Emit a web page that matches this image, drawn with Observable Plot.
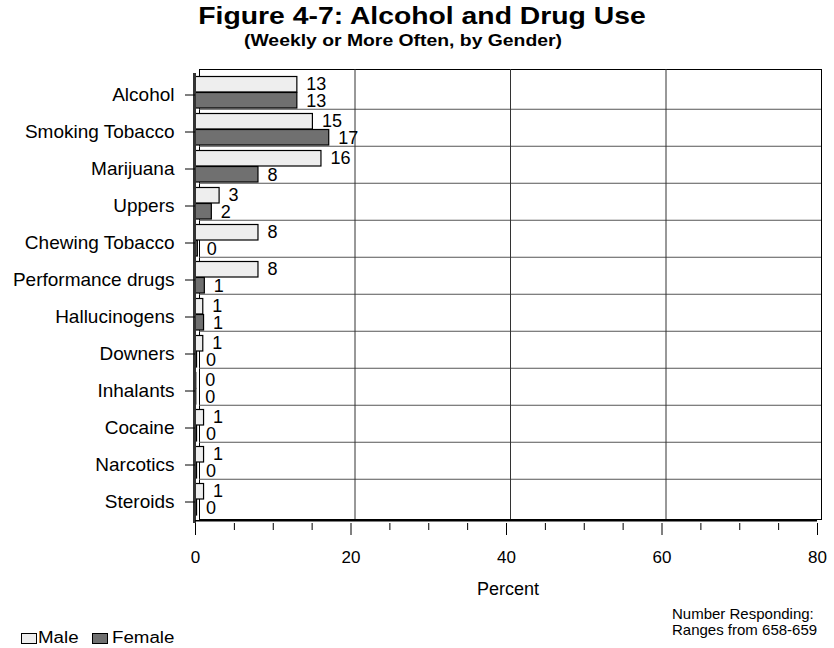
<!DOCTYPE html>
<html><head><meta charset="utf-8">
<script src="https://cdn.jsdelivr.net/npm/d3@7"></script>
<script src="https://cdn.jsdelivr.net/npm/@observablehq/plot@0.6"></script>
<style>
body{margin:0;background:#fff;font-family:"Liberation Sans",Arial,sans-serif;}
#wrap{position:relative;width:834px;height:648px;overflow:hidden;background:#fff;}
.abs{position:absolute;white-space:nowrap;color:#000;}
</style></head>
<body><div id="wrap">
<div id="chart" class="abs" style="left:0;top:56px"></div>
<div class="abs" style="left:422px;top:2px;font-size:24px;line-height:28px;font-weight:bold;transform:translateX(-50%) scaleX(1.18);">Figure 4-7: Alcohol and Drug Use</div>
<div class="abs" style="left:403px;top:30px;font-size:17.3px;line-height:20px;font-weight:bold;transform:translateX(-50%) scaleX(1.12);">(Weekly or More Often, by Gender)</div>
<div class="abs" style="left:508px;top:579px;font-size:18px;line-height:20px;transform:translateX(-50%);">Percent</div>
<div class="abs" style="left:21px;top:633px;width:14px;height:9px;border:1px solid #000;background:#eeeeee;"></div>
<div class="abs" style="left:38px;top:629px;font-size:16px;line-height:18px;transform-origin:left center;transform:scaleX(1.17);">Male</div>
<div class="abs" style="left:92px;top:633px;width:14px;height:9px;border:1px solid #000;background:#707070;"></div>
<div class="abs" style="left:112px;top:629px;font-size:16px;line-height:18px;transform-origin:left center;transform:scaleX(1.17);">Female</div>
<div class="abs" style="left:672px;top:606px;font-size:15px;line-height:16px;">Number Responding:<br>Ranges from 658-659</div>
</div>
<script>
const categories = ["Alcohol","Smoking Tobacco","Marijuana","Uppers","Chewing Tobacco","Performance drugs","Hallucinogens","Downers","Inhalants","Cocaine","Narcotics","Steroids"];
const male   = [13.1, 15.1, 16.2, 3.1, 8.1, 8.1, 1.0, 1.0, 0.1, 1.1, 1.1, 1.1];
const female = [13.1, 17.2, 8.1, 2.1, 0.3, 1.2, 1.1, 0.2, 0.1, 0.2, 0.2, 0.2];
const majorTicks = [0, 20, 40, 60, 80];
const minorTicks = [5, 10, 15, 25, 30, 35, 45, 50, 55, 65, 70, 75];

const rows = categories.map((c, i) => ({category: c, male: male[i], female: female[i]}));
const fmt = d3.format(".0f");

const W = 834, ML = 195, MR = 17, MT = 17, PH = 450, MB = 87;
const band = PH / categories.length;
const back = {dx: 4, dy: -4};

const chart = Plot.plot({
  width: W, height: MT + PH + MB,
  marginLeft: ML, marginRight: MR, marginTop: MT, marginBottom: MB,
  style: {fontFamily: "'Liberation Sans', Arial, sans-serif", background: "transparent", overflow: "visible", color: "#000"},
  x: {domain: [0, 80], axis: null},
  y: {domain: categories, padding: 0, axis: null},
  marks: [
    Plot.frame({...back, stroke: "#000"}),
    Plot.ruleY(categories.slice(1), {dx: 4, dy: -band / 2 - 4, stroke: "#555"}),
    Plot.ruleX(majorTicks.slice(1, -1), {...back, stroke: "#333"}),
    Plot.barX(rows, {x: "male", y: "category", insetTop: 0.5, insetBottom: band - 16.5, fill: "#eeeeee", stroke: "#000", strokeWidth: 1.2}),
    Plot.barX(rows, {x: "female", y: "category", insetTop: 16.5, insetBottom: band - 32.5, fill: "#707070", stroke: "#000", strokeWidth: 1.2}),
    Plot.ruleX([0], {stroke: "#333", strokeWidth: 3, dx: -1}),
    Plot.ruleY([categories[categories.length - 1]], {dy: band / 2, stroke: "#000", strokeWidth: 1.5}),
    Plot.text(rows, {x: "male", y: "category", text: d => fmt(d.male), dx: 9, dy: -10.5, textAnchor: "start", fontSize: 18, fill: "#000"}),
    Plot.text(rows, {x: "female", y: "category", text: d => fmt(d.female), dx: 9, dy: 6, textAnchor: "start", fontSize: 18, fill: "#000"}),
    Plot.axisX(majorTicks, {tickSize: 12, tickPadding: 15, fontSize: 17, label: null}),
    Plot.axisX(minorTicks, {tickSize: 7, tickFormat: () => "", label: null}),
    Plot.axisY({tickSize: 10, tickPadding: 11, fontSize: 19, label: null})
  ]
});
document.getElementById("chart").appendChild(chart);
</script>
</body></html>
